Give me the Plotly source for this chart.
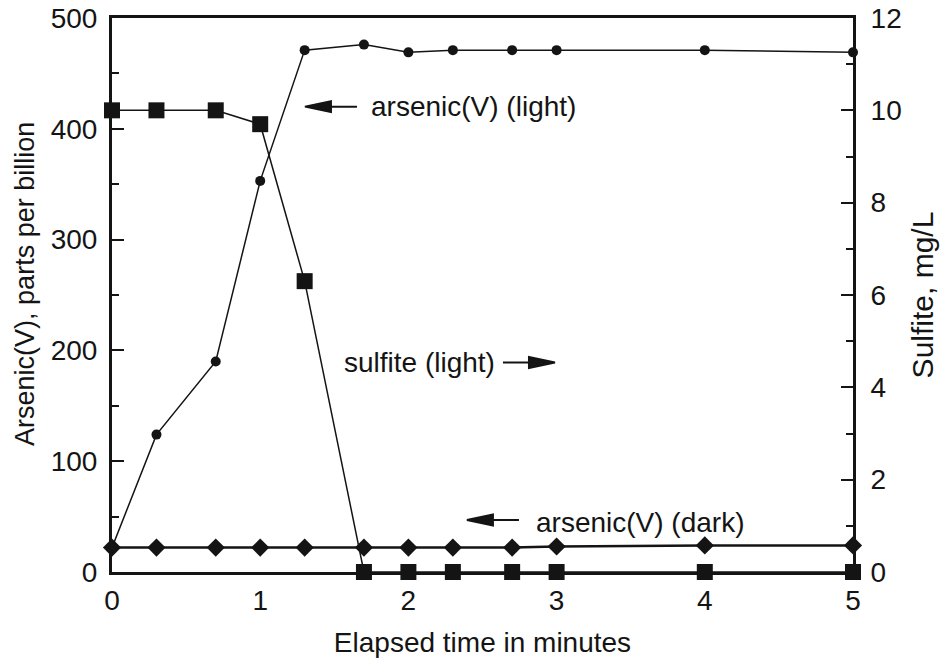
import plotly.graph_objects as go

# Elapsed time (minutes) at each sampling point
time_min = [0, 0.3, 0.7, 1.0, 1.3, 1.7, 2.0, 2.3, 2.7, 3.0, 4.0, 5.0]

# Arsenic(V) in ppb, irradiated sample
arsenic_light = [22, 124, 190, 353, 471, 476, 469, 471, 471, 471, 471, 469]
# Arsenic(V) in ppb, dark control
arsenic_dark = [22, 22, 22, 22, 22, 22, 22, 22, 22, 23, 24, 24]
# Sulfite in mg/L, irradiated sample
sulfite_light = [10.0, 10.0, 10.0, 9.7, 6.3, 0, 0, 0, 0, 0, 0, 0]

left_ticks = [0, 100, 200, 300, 400, 500]
right_ticks = [0, 2, 4, 6, 8, 10, 12]
x_ticks = [0, 1, 2, 3, 4, 5]

FONT = "Liberation Sans, Arial, Helvetica, sans-serif"
INK = "#141414"

fig = go.Figure()

fig.add_trace(go.Scatter(
    x=time_min, y=arsenic_dark, mode="lines+markers",
    line=dict(color=INK, width=2.5),
    marker=dict(symbol="diamond", size=14, color=INK),
    cliponaxis=False, showlegend=False,
))
fig.add_trace(go.Scatter(
    x=time_min, y=arsenic_light, mode="lines+markers",
    line=dict(color=INK, width=1.5),
    marker=dict(symbol="circle", size=10, color=INK),
    cliponaxis=False, showlegend=False,
))
fig.add_trace(go.Scatter(
    x=time_min, y=sulfite_light, mode="lines+markers", yaxis="y2",
    line=dict(color=INK, width=1.5),
    marker=dict(symbol="square", size=16, color=INK),
    cliponaxis=False, showlegend=False,
))

# Series labels: text position (data units) and arrow tip / direction
labels = [
    dict(text="arsenic(V) (light)", x=1.734, y=420, tip=(1.302, 420), direction=-1),
    dict(text="sulfite (light)", x=1.552, y=189, tip=(2.989, 189), direction=1),
    dict(text="arsenic(V) (dark)", x=2.848, y=45, tip=(2.395, 47), direction=-1),
]

annotations = []
shapes = []
for lb in labels:
    annotations.append(dict(
        x=lb["x"], y=lb["y"], xref="x", yref="y", text=lb["text"],
        showarrow=False, xanchor="left", yanchor="middle",
        font=dict(family=FONT, size=28, color=INK),
    ))
    d = lb["direction"]
    # shaft plus a long filled head, sized in pixels and anchored at the tip
    path = (f"M {-d*52} 0 L {-d*22} 0 "
            f"M {-d*26} -5.5 L 0 0 L {-d*26} 5.5 Z")
    shapes.append(dict(
        type="path", xref="x", yref="y",
        xsizemode="pixel", ysizemode="pixel",
        xanchor=lb["tip"][0], yanchor=lb["tip"][1],
        path=path, fillcolor=INK, line=dict(color=INK, width=2),
    ))

# left axis title
annotations.append(dict(
    x=0, y=0.52, xref="paper", yref="paper", xshift=-87,
    text="Arsenic(V), parts per billion", textangle=-90, showarrow=False,
    xanchor="center", yanchor="middle",
    font=dict(family=FONT, size=27, color=INK),
))

fig.update_layout(
    width=940, height=658,
    margin=dict(l=112, r=87, t=18, b=86),
    paper_bgcolor="white", plot_bgcolor="white",
    font=dict(family=FONT, size=28, color=INK),
    annotations=annotations,
    shapes=shapes,
    xaxis=dict(
        range=[0, 5], tickvals=x_ticks, ticks="", showgrid=False, zeroline=False,
        showline=True, linewidth=3, linecolor=INK, mirror=True, automargin=False,
        tickfont=dict(size=28), ticklabelstandoff=1,
        title=dict(text="Elapsed time in minutes", font=dict(size=28), standoff=21),
    ),
    yaxis=dict(
        range=[0, 500], tickvals=left_ticks, ticks="inside", ticklen=12, tickwidth=1.5,
        tickcolor=INK, showgrid=False, zeroline=False, automargin=False,
        showline=True, linewidth=3, linecolor=INK, ticklabelstandoff=6,
        minor=dict(dtick=50, ticks="inside", ticklen=7, tickwidth=1.5, tickcolor=INK, showgrid=False),
        tickfont=dict(size=28),
    ),
    yaxis2=dict(
        range=[0, 12], tickvals=right_ticks, overlaying="y", side="right",
        ticks="inside", ticklen=12, tickwidth=1.5, tickcolor=INK, automargin=False,
        showgrid=False, zeroline=False, showline=True, linewidth=3, linecolor=INK,
        ticklabelstandoff=9,
        minor=dict(dtick=1, ticks="inside", ticklen=7, tickwidth=1.5, tickcolor=INK, showgrid=False),
        tickfont=dict(size=28),
        title=dict(text="Sulfite, mg/L", font=dict(size=30), standoff=12),
    ),
)

fig.write_html("out.html")
